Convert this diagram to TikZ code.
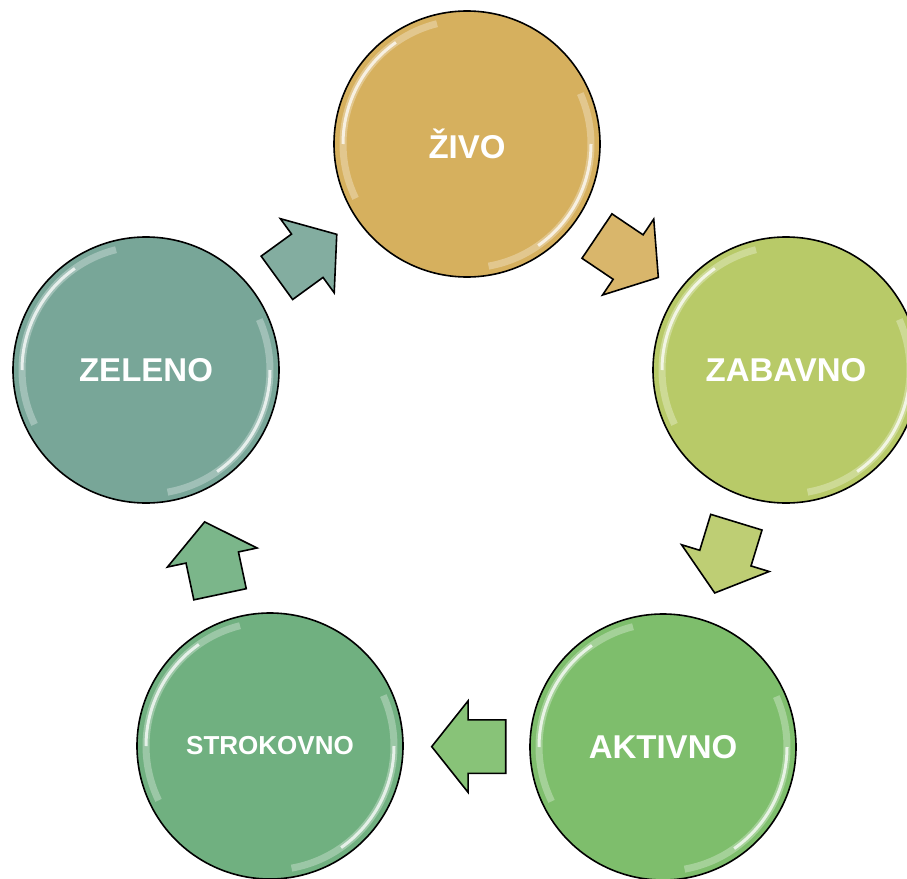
\documentclass[tikz,border=0pt]{standalone}
\usepackage{fontspec}
\setmainfont{Liberation Sans}
\usetikzlibrary{shapes,arrows,calc}

\definecolor{zivoCol}{HTML}{D6B05E}
\definecolor{zabavnoCol}{HTML}{B8CA68}
\definecolor{aktivnoCol}{HTML}{7EBE6C}
\definecolor{strokovnoCol}{HTML}{70B080}
\definecolor{zelenoCol}{HTML}{78A698}

\begin{document}
\begin{tikzpicture}[x=1pt,y=-1pt,
    bubble/.style={circle,
        draw,
        line width=1.6pt,
        minimum size=266pt,
        inner sep=0pt,
        text=white,
        font=\bfseries\fontsize{33}{38}\selectfont,
        path picture={
            \draw[white, opacity=.3, line width=7pt]
                ([shift={(104:124pt)}]path picture bounding box.center) arc (104:206:124pt);
            \draw[white, opacity=.75, line width=3pt]
                ([shift={(125:124pt)}]path picture bounding box.center) arc (125:180:124pt);
            \draw[white, opacity=.3, line width=7pt]
                ([shift={(-80:124pt)}]path picture bounding box.center) arc (-80:24:124pt);
            \draw[white, opacity=.75, line width=3pt]
                ([shift={(-55:124pt)}]path picture bounding box.center) arc (-55:0:124pt);
        }},
    turn/.style={single arrow,
        draw,
        line width=1.6pt,
        anchor=tail,
        minimum height=74pt,
        minimum width=90pt,
        inner xsep=0pt,
        inner ysep=26pt,
        single arrow head extend=19pt,
        single arrow tip angle=103}]

    \useasboundingbox (0,0) rectangle (907,878);

    \node[bubble, fill=zivoCol] (zivo) at (467,144) {ŽIVO};
    \node[bubble, fill=zabavnoCol] (zabavno) at (786,370) {ZABAVNO};
    \node[bubble, fill=aktivnoCol] (aktivno) at (663,747) {AKTIVNO};
    \node[bubble,
        fill=strokovnoCol,
        font=\bfseries\fontsize{26}{30}\selectfont] (strokovno) at (270,746) {STROKOVNO};
    \node[bubble, fill=zelenoCol] (zeleno) at (146,370) {ZELENO};

    % arrows between the bubbles
    \node[turn, rotate=-34, fill=zivoCol!92!white] (zivo-zabavno)
        at ($(zivo)!0.5!(zabavno)!37pt!(zivo)$) {};
    \node[turn, rotate=-107, fill=zabavnoCol!92!white] (zabavno-aktivno)
        at ($(zabavno)!0.5!(aktivno)!39pt!(zabavno)$) {};
    \node[turn, rotate=180, fill=aktivnoCol!92!white] (aktivno-strokovno)
        at ($(aktivno)!0.5!(strokovno)!40pt!(aktivno)$) {};
    \node[turn, rotate=102, fill=strokovnoCol!92!white] (strokovno-zeleno)
        at ($(strokovno)!0.5!(zeleno)!39pt!(strokovno)$) {};
    \node[turn, rotate=36, fill=zelenoCol!92!white] (zeleno-zivo)
        at ($(zeleno)!0.5!(zivo)!37pt!(zeleno)$) {};

\end{tikzpicture}
\end{document}
